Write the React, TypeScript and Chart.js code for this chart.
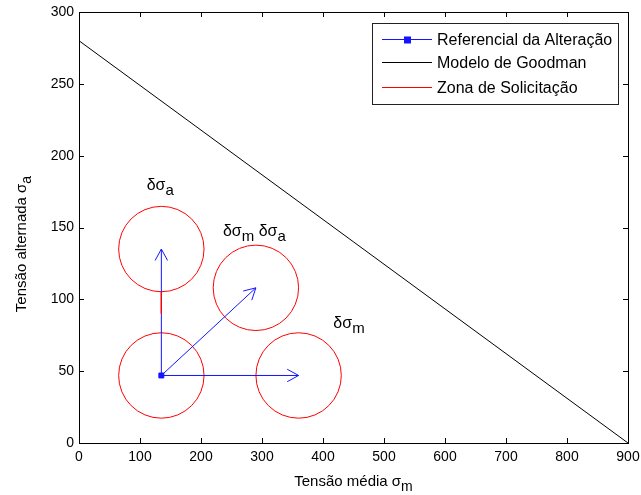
import React, { useEffect, useRef } from "react";
import { Chart, registerables } from "chart.js";

Chart.register(...registerables);

// Goodman line (σm, σa)
const goodmanX = [0, 900];
const goodmanY = [280, 0];

// Reference point of the change
const originX = 135;
const originY = 47;

// Arrow tips: δσa, δσm+δσa, δσm
const tipX = [135, 290, 360];
const tipY = [135, 108, 47];

// Load zones (circle centres) and their radius in σm units
const zoneX = [135, 135, 290, 360];
const zoneY = [47, 135, 108, 47];
const zoneRadius = 70;

// Short red link between the two left zones
const linkX = [135, 135];
const linkY = [105, 90];

const xTicks = [0, 100, 200, 300, 400, 500, 600, 700, 800, 900];
const yTicks = [0, 50, 100, 150, 200, 250, 300];

const legendLabels = ["Referencial da Alteração", "Modelo de Goodman", "Zona de Solicitação"];

const BLUE = "rgb(20,20,255)";
const RED = "rgb(255,0,0)";
const FONT = "'Liberation Sans', Arial, sans-serif";

type Part = { t: string; sub?: boolean };

function drawRich(
  ctx: CanvasRenderingContext2D,
  parts: Part[],
  x: number,
  y: number,
  size: number,
  subSize: number,
  align: "left" | "center"
) {
  const widths = parts.map((p) => {
    ctx.font = `${p.sub ? subSize : size}px ${FONT}`;
    return ctx.measureText(p.t).width;
  });
  const total = widths.reduce((a, b) => a + b, 0);
  let cx = align === "center" ? x - total / 2 : x;
  ctx.textAlign = "left";
  ctx.textBaseline = "alphabetic";
  parts.forEach((p, i) => {
    ctx.font = `${p.sub ? subSize : size}px ${FONT}`;
    ctx.fillText(p.t, cx, p.sub ? y + size * 0.33 : y);
    cx += widths[i];
  });
}

const frame = {
  id: "frame",
  afterDatasetsDraw(chart: any) {
    const { ctx, chartArea: a, scales } = chart;
    ctx.save();
    ctx.strokeStyle = "#000";
    ctx.lineWidth = 1;
    ctx.strokeRect(
      Math.round(a.left) + 0.5,
      Math.round(a.top) + 0.5,
      Math.round(a.right - a.left),
      Math.round(a.bottom - a.top)
    );
    const len = 5;
    ctx.beginPath();
    xTicks.forEach((v) => {
      const px = Math.round(scales.x.getPixelForValue(v)) + 0.5;
      ctx.moveTo(px, a.bottom);
      ctx.lineTo(px, a.bottom - len);
      ctx.moveTo(px, a.top);
      ctx.lineTo(px, a.top + len);
    });
    yTicks.forEach((v) => {
      const py = Math.round(scales.y.getPixelForValue(v)) + 0.5;
      ctx.moveTo(a.left, py);
      ctx.lineTo(a.left + len, py);
      ctx.moveTo(a.right, py);
      ctx.lineTo(a.right - len, py);
    });
    ctx.stroke();

    // arrow heads
    ctx.strokeStyle = BLUE;
    const ox = scales.x.getPixelForValue(originX);
    const oy = scales.y.getPixelForValue(originY);
    tipX.forEach((tx, i) => {
      const px = scales.x.getPixelForValue(tx);
      const py = scales.y.getPixelForValue(tipY[i]);
      const ang = Math.atan2(py - oy, px - ox);
      const hl = 13;
      const spread = 0.5;
      ctx.beginPath();
      ctx.moveTo(px - hl * Math.cos(ang - spread), py - hl * Math.sin(ang - spread));
      ctx.lineTo(px, py);
      ctx.lineTo(px - hl * Math.cos(ang + spread), py - hl * Math.sin(ang + spread));
      ctx.stroke();
    });

    // annotations
    ctx.fillStyle = "#000";
    const ann: { x: number; y: number; parts: Part[] }[] = [
      { x: 111, y: 176, parts: [{ t: "δσ" }, { t: "a", sub: true }] },
      { x: 236, y: 144, parts: [{ t: "δσ" }, { t: "m", sub: true }, { t: " δσ" }, { t: "a", sub: true }] },
      { x: 417, y: 80, parts: [{ t: "δσ" }, { t: "m", sub: true }] },
    ];
    ann.forEach((n) => {
      drawRich(ctx, n.parts, scales.x.getPixelForValue(n.x), scales.y.getPixelForValue(n.y), 16, 15, "left");
    });
    ctx.restore();
  },
  afterDraw(chart: any) {
    const { ctx, chartArea: a } = chart;
    ctx.save();
    ctx.fillStyle = "#000";
    // axis titles
    drawRich(ctx, [{ t: "Tensão média σ" }, { t: "m", sub: true }], (a.left + a.right) / 2, 486, 15, 14, "center");
    ctx.save();
    ctx.translate(26, 244);
    ctx.rotate(-Math.PI / 2);
    drawRich(ctx, [{ t: "Tensão alternada σ" }, { t: "a", sub: true }], 0, 0, 15, 14, "center");
    ctx.restore();

    // legend
    const bx = 372.5,
      by = 23.5,
      bw = 246,
      bh = 81;
    ctx.fillStyle = "#fff";
    ctx.fillRect(bx, by, bw, bh);
    ctx.strokeStyle = "#222";
    ctx.lineWidth = 1;
    ctx.strokeRect(bx, by, bw, bh);
    const rows = [39.5, 62.5, 87.5];
    const colors = [BLUE, "#000", RED];
    rows.forEach((ry, i) => {
      ctx.strokeStyle = colors[i];
      ctx.beginPath();
      ctx.moveTo(382, ry);
      ctx.lineTo(432, ry);
      ctx.stroke();
      if (i === 0) {
        ctx.fillStyle = BLUE;
        ctx.fillRect(404, ry - 3, 7, 7);
      }
      ctx.fillStyle = "#000";
      ctx.font = `16px ${FONT}`;
      ctx.textAlign = "left";
      ctx.textBaseline = "middle";
      ctx.fillText(legendLabels[i], 437, ry + 1);
    });
    ctx.restore();
  },
};

export default function App() {
  const ref = useRef<HTMLCanvasElement | null>(null);
  useEffect(() => {
    if (!ref.current) return;
    const pts = (xs: number[], ys: number[]) => xs.map((x, i) => ({ x, y: ys[i] }));
    const arrows = tipX.map((tx, i) => ({
      label: "arrow" + i,
      data: [
        { x: originX, y: originY },
        { x: tx, y: tipY[i] },
      ],
      showLine: true,
      borderColor: BLUE,
      borderWidth: 1,
      pointRadius: 0,
      order: 2,
    }));
    const chart = new Chart(ref.current, {
      type: "scatter",
      data: {
        datasets: [
          {
            label: legendLabels[1],
            data: pts(goodmanX, goodmanY),
            showLine: true,
            borderColor: "#000",
            borderWidth: 1,
            pointRadius: 0,
            order: 1,
          },
          {
            label: legendLabels[2],
            data: pts(zoneX, zoneY),
            showLine: false,
            pointStyle: "circle",
            pointRadius: (c: any) => {
              const s = c.chart.scales.x;
              return s.getPixelForValue(zoneRadius) - s.getPixelForValue(0);
            },
            pointBorderColor: RED,
            pointBackgroundColor: "rgba(0,0,0,0)",
            pointBorderWidth: 1,
            order: 3,
          },
          {
            label: "link",
            data: pts(linkX, linkY),
            showLine: true,
            borderColor: RED,
            borderWidth: 1,
            pointRadius: 0,
            order: 0,
          },
          ...arrows,
          {
            label: legendLabels[0],
            data: [{ x: originX, y: originY }],
            pointStyle: "rect",
            pointRadius: 3.5,
            pointBackgroundColor: BLUE,
            pointBorderColor: BLUE,
            order: 0,
          },
        ] as any,
      },
      options: {
        animation: false,
        responsive: true,
        maintainAspectRatio: false,
        events: [],
        layout: { padding: { top: 12, right: 13, left: 0, bottom: 0 } },
        plugins: { legend: { display: false }, tooltip: { enabled: false } },
        scales: {
          x: {
            type: "linear",
            min: 0,
            max: 900,
            afterBuildTicks: (s: any) => {
              s.ticks = xTicks.map((v) => ({ value: v }));
            },
            afterFit: (s: any) => {
              s.height = 52;
              s.paddingLeft = 0;
              s.paddingRight = 0;
            },
            grid: { display: false, drawTicks: false },
            border: { display: false },
            ticks: { color: "#000", font: { family: FONT, size: 14 }, padding: 6, maxRotation: 0 },
          },
          y: {
            type: "linear",
            min: 0,
            max: 300,
            afterBuildTicks: (s: any) => {
              s.ticks = yTicks.map((v) => ({ value: v }));
            },
            afterFit: (s: any) => {
              s.width = 79;
              s.paddingTop = 0;
              s.paddingBottom = 0;
            },
            grid: { display: false, drawTicks: false },
            border: { display: false },
            ticks: { color: "#000", font: { family: FONT, size: 14 }, padding: 5 },
          },
        },
      },
      plugins: [frame],
    });
    return () => chart.destroy();
  }, []);
  return (
    <div style={{ position: "fixed", left: 0, top: 0, width: 641, height: 495, background: "#fff" }}>
      <canvas ref={ref} />
    </div>
  );
}
